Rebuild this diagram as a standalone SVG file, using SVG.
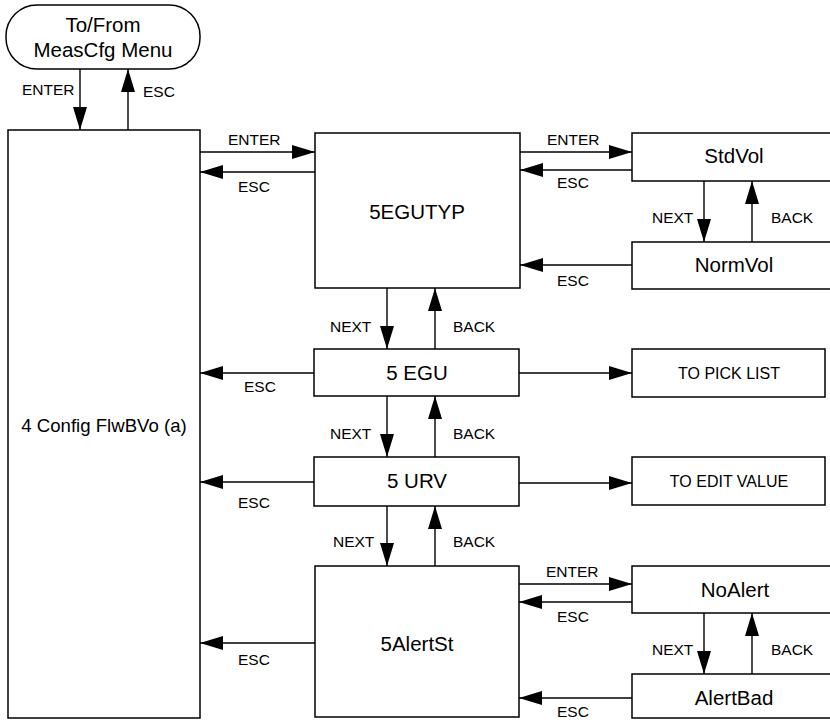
<svg xmlns="http://www.w3.org/2000/svg" width="830" height="723" viewBox="0 0 830 723">
<style>
.box{fill:#fff;stroke:#000;stroke-width:1.5}
.n{font-family:"Liberation Sans",Arial,sans-serif;font-size:20.5px;text-anchor:middle;fill:#000}
.s{font-family:"Liberation Sans",Arial,sans-serif;font-size:16px;text-anchor:middle;fill:#000}
.l{font-family:"Liberation Sans",Arial,sans-serif;font-size:15.5px;fill:#000}
.c line{stroke:#000;stroke-width:1.4;marker-end:url(#ah)}
</style>
<defs>
<marker id="ah" markerUnits="userSpaceOnUse" markerWidth="23" markerHeight="14" refX="23" refY="7" orient="auto">
<path d="M0,0 L23,7 L0,14 z" fill="#000"/>
</marker>
</defs>
<rect width="830" height="723" fill="#fff"/>
<g id="n-term"><rect class="box" x="6" y="5" width="194" height="64" rx="31"/><text class="n" x="103" y="32">To/From</text><text class="n" x="103" y="57">MeasCfg Menu</text></g>
<g id="n-main"><rect class="box" x="8" y="130" width="192" height="588"/><text class="n" x="104" y="432" style="font-size:18.6px">4 Config FlwBVo (a)</text></g>
<g id="n-egutyp"><rect class="box" x="315" y="133" width="205" height="155"/><text class="n" x="417" y="219">5EGUTYP</text></g>
<g id="n-stdvol"><rect class="box" x="632" y="133" width="204" height="48"/><text class="n" x="734" y="163">StdVol</text></g>
<g id="n-normvol"><rect class="box" x="632" y="242" width="204" height="47"/><text class="n" x="734" y="272">NormVol</text></g>
<g id="n-egu"><rect class="box" x="314" y="349" width="205" height="47"/><text class="n" x="417" y="380">5 EGU</text></g>
<g id="n-pick"><rect class="box" x="632" y="349" width="193" height="48"/><text class="s" x="729" y="379">TO PICK LIST</text></g>
<g id="n-urv"><rect class="box" x="314" y="457" width="205" height="49"/><text class="n" x="417" y="488">5 URV</text></g>
<g id="n-edit"><rect class="box" x="632" y="457" width="193" height="48"/><text class="s" x="729" y="487">TO EDIT VALUE</text></g>
<g id="n-alertst"><rect class="box" x="315" y="566" width="204" height="151"/><text class="n" x="417" y="651">5AlertSt</text></g>
<g id="n-noalert"><rect class="box" x="632" y="566" width="204" height="47"/><text class="n" x="735" y="597">NoAlert</text></g>
<g id="n-alertbad"><rect class="box" x="632" y="674" width="204" height="44"/><text class="n" x="734" y="705">AlertBad</text></g>
<g id="connectors" class="c">
<line x1="80" y1="69" x2="80" y2="130"/>
<line x1="128" y1="130" x2="128" y2="69"/>
<line x1="200" y1="152" x2="315" y2="152"/>
<line x1="315" y1="172" x2="200" y2="172"/>
<line x1="520" y1="152" x2="632" y2="152"/>
<line x1="632" y1="170" x2="520" y2="170"/>
<line x1="632" y1="265" x2="520" y2="265"/>
<line x1="704" y1="181" x2="704" y2="242"/>
<line x1="752" y1="242" x2="752" y2="181"/>
<line x1="387" y1="288" x2="387" y2="349"/>
<line x1="435" y1="349" x2="435" y2="288"/>
<line x1="314" y1="373" x2="200" y2="373"/>
<line x1="519" y1="373" x2="632" y2="373"/>
<line x1="387" y1="396" x2="387" y2="457"/>
<line x1="435" y1="457" x2="435" y2="396"/>
<line x1="314" y1="482" x2="200" y2="482"/>
<line x1="519" y1="483" x2="632" y2="483"/>
<line x1="387" y1="506" x2="387" y2="566"/>
<line x1="435" y1="566" x2="435" y2="506"/>
<line x1="315" y1="643" x2="200" y2="643"/>
<line x1="519" y1="584" x2="632" y2="584"/>
<line x1="632" y1="602" x2="519" y2="602"/>
<line x1="704" y1="613" x2="704" y2="674"/>
<line x1="752" y1="674" x2="752" y2="613"/>
<line x1="632" y1="698" x2="519" y2="698"/>
<g id="labels">
<text class="l" x="22" y="95">ENTER</text>
<text class="l" x="143" y="97">ESC</text>
<text class="l" x="228" y="145">ENTER</text>
<text class="l" x="238" y="192">ESC</text>
<text class="l" x="547" y="145">ENTER</text>
<text class="l" x="557" y="188">ESC</text>
<text class="l" x="557" y="286">ESC</text>
<text class="l" x="652" y="223">NEXT</text>
<text class="l" x="771" y="223">BACK</text>
<text class="l" x="330" y="332">NEXT</text>
<text class="l" x="453" y="332">BACK</text>
<text class="l" x="244" y="392">ESC</text>
<text class="l" x="330" y="439">NEXT</text>
<text class="l" x="453" y="439">BACK</text>
<text class="l" x="238" y="508">ESC</text>
<text class="l" x="333" y="547">NEXT</text>
<text class="l" x="453" y="547">BACK</text>
<text class="l" x="238" y="665">ESC</text>
<text class="l" x="546" y="577">ENTER</text>
<text class="l" x="557" y="622">ESC</text>
<text class="l" x="652" y="655">NEXT</text>
<text class="l" x="771" y="655">BACK</text>
<text class="l" x="557" y="717">ESC</text>
</g>
</g>
</svg>
